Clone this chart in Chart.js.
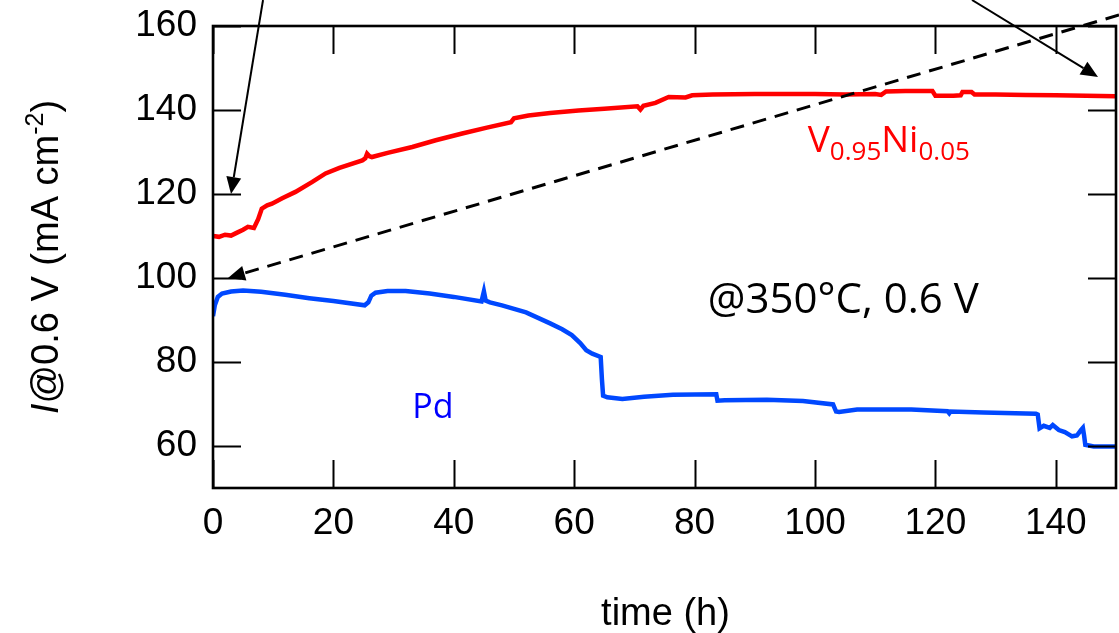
<!DOCTYPE html>
<html>
<head>
<meta charset="utf-8">
<script src="https://cdn.jsdelivr.net/npm/chart.js@4/dist/chart.umd.min.js"></script>
<style>
  html, body { margin: 0; padding: 0; background: #fff; }
  #c { display: block; }
</style>
</head>
<body>
<canvas id="c" width="1119" height="633"></canvas>
<script>
// ---- data ----
const xTicks = [0, 20, 40, 60, 80, 100, 120, 140];
const yTicks = [60, 80, 100, 120, 140, 160];

const timeVNi = [0, 1, 2, 3, 4, 5, 5.8, 6.8, 7.5, 8.1, 9, 9.8, 11.5, 13.7, 16.5, 18.7, 21, 24.8, 25.3, 25.6, 26.0, 26.4, 29, 33.1, 37, 41.4, 45.5, 49.5, 50, 52.4, 56, 60.7, 65, 70.5, 71, 71.5, 73.5, 75.7, 78.5, 79.6, 83, 90, 100, 105, 110, 111, 111.8, 115, 119.5, 120, 123, 124.2, 124.5, 126, 126.5, 130, 135, 140, 145, 150];
const currVNi = [110.0, 109.8, 110.3, 110.1, 110.8, 111.5, 112.2, 111.9, 114.0, 116.5, 117.3, 117.7, 119.0, 120.5, 122.9, 124.9, 126.2, 128.0, 128.5, 129.6, 129.0, 128.8, 129.8, 131.2, 132.8, 134.4, 135.8, 137.1, 138.0, 138.7, 139.3, 139.9, 140.3, 140.9, 140.1, 141.0, 141.7, 143.1, 143.0, 143.5, 143.7, 143.8, 143.8, 143.7, 143.8, 143.6, 144.4, 144.5, 144.5, 143.4, 143.4, 143.5, 144.3, 144.3, 143.7, 143.7, 143.6, 143.5, 143.4, 143.3];

const timePd = [0, 0.3, 0.8, 1.5, 3, 5, 8, 12, 16, 20, 25.2, 25.8, 26.3, 27, 29, 32, 36, 40, 44.6, 45.0, 45.3, 46, 48, 52, 56, 58, 59.6, 61, 62, 63, 64.4, 64.6, 64.8, 65.5, 68, 71.6, 76.4, 83.6, 83.8, 85, 92, 98, 103, 103.5, 104, 107, 116, 122, 122.3, 122.5, 128, 136.7, 137, 137.3, 138, 139, 139.5, 140.5, 141.5, 142.7, 143.5, 144.2, 144.5, 144.7, 144.9, 146.3, 150];
const currPd = [90.9, 93.5, 95.5, 96.3, 96.8, 97.0, 96.7, 96.0, 95.2, 94.5, 93.5, 94.2, 95.8, 96.5, 96.9, 96.9, 96.3, 95.5, 94.4, 96.8, 94.6, 94.2, 93.5, 91.8, 89.2, 87.8, 86.4, 84.5, 82.8, 82.0, 81.2, 76.0, 72.0, 71.6, 71.2, 71.7, 72.2, 72.3, 70.8, 70.9, 71.0, 70.7, 69.9, 68.2, 68.1, 68.7, 68.7, 68.3, 67.8, 68.2, 68.0, 67.7, 67.5, 64.2, 64.8, 64.3, 65.0, 63.8, 63.3, 62.3, 62.5, 63.8, 64.3, 62.5, 60.3, 59.9, 59.9];

// annotation arrows in data coordinates: [x1, y1, x2(tip), y2(tip), dashed]
const arrowsData = [
  [8.31, 166.19, 2.99, 120.0, false],
  [126.08, 166.19, 147.01, 147.86, false],
  [150.5, 162.62, 2.49, 100.0, true]
];

const toPts = (xs, ys) => xs.map((x, i) => ({x: x, y: ys[i]}));

const ARIAL = "'Liberation Sans', Arial, sans-serif";
const CAL = "'Open Sans', 'Noto Sans', sans-serif";

const framePlugin = {
  id: 'frameAndNotes',
  afterDraw(chart) {
    const ctx = chart.ctx;
    const a = chart.chartArea;
    const xs = chart.scales.x, ys = chart.scales.y;
    ctx.save();
    // inward ticks
    ctx.strokeStyle = '#000';
    ctx.lineWidth = 2;
    const tl = 28;
    ctx.beginPath();
    xTicks.forEach(v => {
      const px = Math.round(xs.getPixelForValue(v)) + 0.5;
      ctx.moveTo(px, a.bottom); ctx.lineTo(px, a.bottom - tl);
      ctx.moveTo(px, a.top); ctx.lineTo(px, a.top + tl);
    });
    yTicks.forEach(v => {
      const py = Math.round(ys.getPixelForValue(v)) + 0.5;
      ctx.moveTo(a.left, py); ctx.lineTo(a.left + tl, py);
      ctx.moveTo(a.right, py); ctx.lineTo(a.right - tl, py);
    });
    ctx.stroke();
    // frame
    ctx.lineWidth = 2.6;
    ctx.strokeRect(a.left, a.top, a.right - a.left, a.bottom - a.top);

    // arrows
    arrowsData.forEach(([x1, y1, x2, y2, dashed]) => {
      const p1x = xs.getPixelForValue(x1), p1y = ys.getPixelForValue(y1);
      const p2x = xs.getPixelForValue(x2), p2y = ys.getPixelForValue(y2);
      const ang = Math.atan2(p2y - p1y, p2x - p1x);
      const hl = 17, hw = 7.5;
      const bx = p2x - hl * Math.cos(ang), by = p2y - hl * Math.sin(ang);
      ctx.save();
      ctx.strokeStyle = '#000';
      ctx.lineWidth = dashed ? 3 : 2;
      if (dashed) ctx.setLineDash([14, 9]);
      ctx.beginPath();
      ctx.moveTo(p1x, p1y); ctx.lineTo(bx, by);
      ctx.stroke();
      ctx.setLineDash([]);
      ctx.fillStyle = '#000';
      ctx.beginPath();
      ctx.moveTo(p2x, p2y);
      ctx.lineTo(bx + hw * Math.sin(ang), by - hw * Math.cos(ang));
      ctx.lineTo(bx - hw * Math.sin(ang), by + hw * Math.cos(ang));
      ctx.closePath();
      ctx.fill();
      ctx.restore();
    });

    // text annotations
    ctx.textBaseline = 'alphabetic';
    ctx.textAlign = 'left';
    ctx.fillStyle = '#000';
    ctx.font = '42px ' + CAL;
    ctx.fillText('@350°C, 0.6 V', xs.getPixelForValue(82.2), ys.getPixelForValue(91.7));

    ctx.fillStyle = '#0000ff';
    ctx.font = '34px ' + CAL;
    ctx.fillText('Pd', xs.getPixelForValue(33.1), ys.getPixelForValue(66.7));

    ctx.fillStyle = '#ff0000';
    let tx = xs.getPixelForValue(98.8);
    const tyb = ys.getPixelForValue(130.0);
    const parts = [['V', 37, 0], ['0.95', 26, 8], ['Ni', 37, 0], ['0.05', 26, 8]];
    parts.forEach(([s, sz, dy]) => {
      ctx.font = sz + 'px ' + CAL;
      ctx.fillText(s, tx, tyb + dy);
      tx += ctx.measureText(s).width;
    });

    // x axis title
    ctx.fillStyle = '#000';
    ctx.textAlign = 'center';
    ctx.font = '38px ' + ARIAL;
    ctx.fillText('time (h)', (a.left + a.right) / 2 + 1, 625);

    // y axis title (rotated)
    const yparts = [['I', 'italic 38px ' + ARIAL, 0], ['@0.6 V (mA cm', '38px ' + ARIAL, 0], ['-2', '25px ' + ARIAL, -15], [')', '38px ' + ARIAL, 0]];
    let total = 0;
    yparts.forEach(([s, f]) => { ctx.font = f; total += ctx.measureText(s).width; });
    ctx.save();
    ctx.translate(58, (a.top + a.bottom) / 2);
    ctx.rotate(-Math.PI / 2);
    ctx.textAlign = 'left';
    let ox = -total / 2;
    yparts.forEach(([s, f, dy]) => {
      ctx.font = f;
      ctx.fillText(s, ox, dy);
      ox += ctx.measureText(s).width;
    });
    ctx.restore();

    ctx.restore();
  }
};

new Chart(document.getElementById('c'), {
  type: 'line',
  data: {
    datasets: [
      {
        label: 'V0.95Ni0.05',
        data: toPts(timeVNi, currVNi),
        borderColor: '#ff0000',
        borderWidth: 4.5,
        pointRadius: 0,
        tension: 0,
        fill: false
      },
      {
        label: 'Pd',
        data: toPts(timePd, currPd),
        borderColor: '#0048ff',
        borderWidth: 4.5,
        pointRadius: 0,
        tension: 0,
        fill: false
      }
    ]
  },
  options: {
    responsive: false,
    animation: false,
    devicePixelRatio: 1,
    layout: { padding: { top: 26, right: 3, left: 0, bottom: 0 } },
    plugins: { legend: { display: false }, tooltip: { enabled: false } },
    scales: {
      x: {
        type: 'linear',
        min: 0,
        max: 150,
        afterBuildTicks: s => { s.ticks = xTicks.map(v => ({value: v})); },
        afterFit: s => { s.height = 145; s.paddingLeft = 0; s.paddingRight = 0; },
        grid: { display: false, drawTicks: false },
        border: { display: false },
        ticks: { color: '#000', font: { family: ARIAL, size: 37 }, padding: 14, maxRotation: 0 }
      },
      y: {
        type: 'linear',
        min: 50,
        max: 160,
        afterBuildTicks: s => { s.ticks = yTicks.map(v => ({value: v})); },
        afterFit: s => { s.width = 213; s.paddingTop = 0; s.paddingBottom = 0; },
        grid: { display: false, drawTicks: false },
        border: { display: false },
        ticks: { color: '#000', font: { family: ARIAL, size: 37 }, padding: 16 }
      }
    }
  },
  plugins: [framePlugin]
});
</script>
</body>
</html>
